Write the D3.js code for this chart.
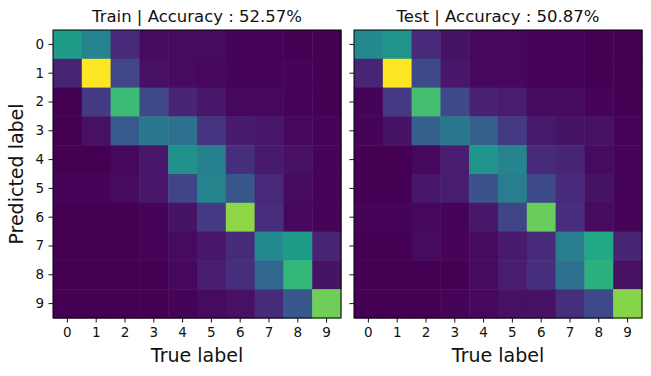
<!DOCTYPE html>
<html>
<head>
<meta charset="utf-8">
<script src="https://cdn.jsdelivr.net/npm/d3@7"></script>
<style>
  body { margin: 0; background: #fff; }
  svg text { font-family: "DejaVu Sans", sans-serif; fill: #111; }
</style>
</head>
<body>
<div id="chart"></div>
<script>
// class labels
const labels = ['0', '1', '2', '3', '4', '5', '6', '7', '8', '9'];

// normalized confusion values, rows = predicted label, cols = true label
const trainMatrix = [
  [0.55, 0.45, 0.12, 0.03, 0.03, 0.03, 0.01, 0.01, 0.00, 0.00],
  [0.10, 1.00, 0.21, 0.04, 0.03, 0.02, 0.01, 0.01, 0.01, 0.00],
  [0.00, 0.17, 0.68, 0.22, 0.10, 0.06, 0.02, 0.02, 0.01, 0.00],
  [0.00, 0.04, 0.28, 0.40, 0.37, 0.15, 0.07, 0.06, 0.02, 0.01],
  [0.00, 0.00, 0.02, 0.06, 0.50, 0.43, 0.13, 0.07, 0.04, 0.01],
  [0.01, 0.01, 0.03, 0.06, 0.20, 0.45, 0.27, 0.11, 0.03, 0.01],
  [0.00, 0.00, 0.00, 0.01, 0.05, 0.17, 0.83, 0.13, 0.02, 0.01],
  [0.00, 0.00, 0.00, 0.01, 0.03, 0.06, 0.12, 0.47, 0.55, 0.10],
  [0.00, 0.00, 0.00, 0.00, 0.02, 0.08, 0.13, 0.33, 0.66, 0.05],
  [0.00, 0.00, 0.00, 0.00, 0.01, 0.03, 0.04, 0.12, 0.27, 0.78]
];

const testMatrix = [
  [0.47, 0.52, 0.12, 0.05, 0.02, 0.02, 0.01, 0.01, 0.00, 0.00],
  [0.10, 1.00, 0.22, 0.06, 0.02, 0.02, 0.01, 0.01, 0.00, 0.00],
  [0.01, 0.17, 0.70, 0.22, 0.09, 0.08, 0.03, 0.03, 0.01, 0.00],
  [0.01, 0.05, 0.30, 0.40, 0.30, 0.17, 0.07, 0.05, 0.04, 0.01],
  [0.00, 0.00, 0.02, 0.08, 0.52, 0.45, 0.12, 0.10, 0.03, 0.01],
  [0.00, 0.00, 0.06, 0.08, 0.25, 0.42, 0.22, 0.12, 0.05, 0.01],
  [0.01, 0.01, 0.02, 0.01, 0.06, 0.20, 0.77, 0.13, 0.03, 0.01],
  [0.00, 0.00, 0.03, 0.01, 0.03, 0.07, 0.12, 0.42, 0.60, 0.10],
  [0.00, 0.00, 0.00, 0.00, 0.03, 0.08, 0.14, 0.37, 0.64, 0.04],
  [0.00, 0.00, 0.00, 0.01, 0.02, 0.04, 0.04, 0.13, 0.22, 0.82]
];

const panels = [
  { title: 'Train | Accuracy : 52.57%', data: trainMatrix, left: 53, showY: true },
  { title: 'Test | Accuracy : 50.87%', data: testMatrix, left: 354, showY: false }
];

const width = 651, height = 376;
const plotTop = 30, size = 288;

const svg = d3.select('#chart').append('svg')
  .attr('width', width)
  .attr('height', height);

const color = d3.scaleSequential(d3.interpolateViridis).domain([0, 1]);

panels.forEach(p => {
  const x = d3.scaleBand().domain(labels).range([0, size]);
  const y = d3.scaleBand().domain(labels).range([0, size]);

  const g = svg.append('g').attr('transform', `translate(${p.left},${plotTop})`);

  // cells
  const cells = [];
  p.data.forEach((row, i) => row.forEach((v, j) => cells.push({ r: labels[i], c: labels[j], v })));
  g.selectAll('rect.cell')
    .data(cells)
    .enter().append('rect')
    .attr('class', 'cell')
    .attr('x', d => x(d.c))
    .attr('y', d => y(d.r))
    .attr('width', x.bandwidth() + 0.5)
    .attr('height', y.bandwidth() + 0.5)
    .attr('fill', d => color(d.v));

  // frame
  g.append('rect')
    .attr('width', size)
    .attr('height', size)
    .attr('fill', 'none')
    .attr('stroke', '#000')
    .attr('stroke-width', 1);

  // axes
  const xAxis = g.append('g')
    .attr('transform', `translate(0,${size})`)
    .call(d3.axisBottom(x).tickSize(4.5).tickPadding(4.5));
  const yAxis = g.append('g')
    .call(d3.axisLeft(y).tickSize(4.5).tickPadding(4.5)
      .tickFormat(p.showY ? (d => d) : () => ''));
  [xAxis, yAxis].forEach(a => {
    a.select('.domain').remove();
    a.selectAll('text').style('font-size', '13.5px').attr('fill', '#111');
    a.selectAll('line').attr('stroke', '#111');
  });

  // title
  g.append('text')
    .attr('x', size / 2)
    .attr('y', -8)
    .attr('text-anchor', 'middle')
    .style('font-size', '16.5px')
    .text(p.title);

  // x label
  g.append('text')
    .attr('x', size / 2)
    .attr('y', size + 44)
    .attr('text-anchor', 'middle')
    .style('font-size', '19px')
    .text('True label');

  if (p.showY) {
    g.append('text')
      .attr('transform', `translate(-30,${size / 2}) rotate(-90)`)
      .attr('text-anchor', 'middle')
      .style('font-size', '19px')
      .text('Predicted label');
  }
});
</script>
</body>
</html>
